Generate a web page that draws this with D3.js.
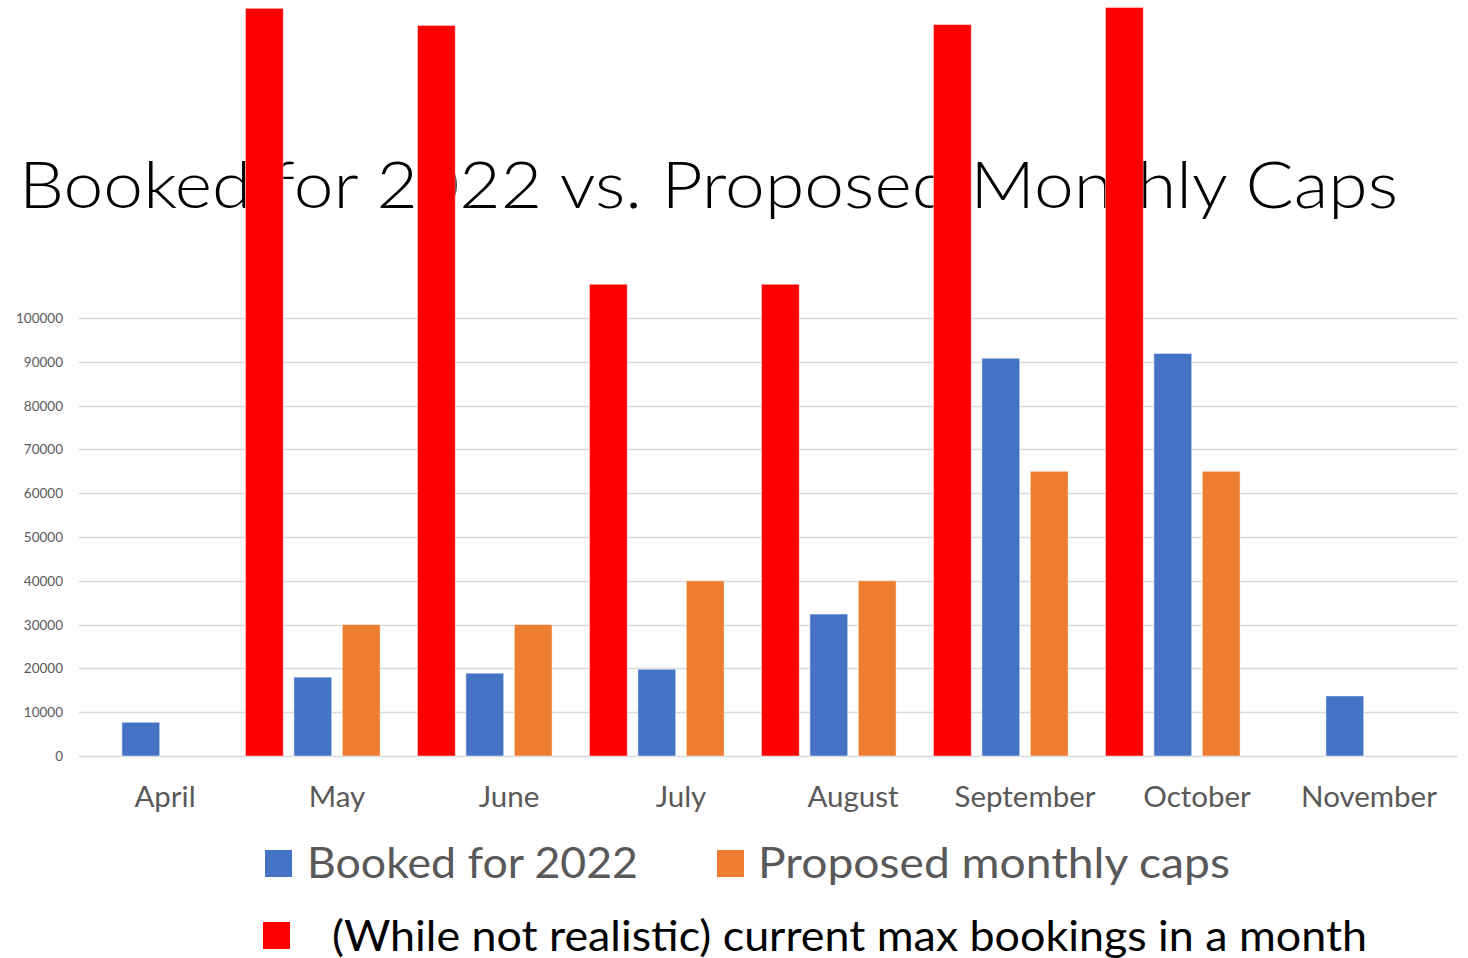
<!DOCTYPE html>
<html>
<head>
<meta charset="utf-8">
<script src="https://cdn.jsdelivr.net/npm/d3@7"></script>
<style>
  body { margin: 0; background: #fff; }
  svg { display: block; font-family: Lato, "Open Sans", sans-serif; }
</style>
</head>
<body>
<script>
var months = ["April", "May", "June", "July", "August", "September", "October", "November"];
var booked = [7700, 18000, 18900, 19800, 32400, 90800, 91900, 13700];
var caps = [null, 30000, 30000, 40000, 40000, 65000, 65000, null];
var maxBookings = [null, 170700, 166800, 107700, 107700, 167000, 170900, null];
var yTicks = [0, 10000, 20000, 30000, 40000, 50000, 60000, 70000, 80000, 90000, 100000];

// excel reserves a fourth (empty) slot in each group
var slots = ["max", "booked", "caps", "spare"];
var colors = { max: "#FF0000", booked: "#4472C4", caps: "#ED7D31" };
var seriesValues = { max: maxBookings, booked: booked, caps: caps };

var svg = d3.select("body").append("svg").attr("width", 1468).attr("height", 958);

var x0 = d3.scaleBand().domain(months).range([79, 1455]).padding(0);
var x1 = d3.scaleBand().domain(slots).range([-91.5, 91.5]).paddingInner(0.22).paddingOuter(0);
var y = d3.scaleLinear().domain([0, 100000]).range([756, 318]);

// gridlines
svg.append("g").selectAll("line").data(yTicks).join("line")
  .attr("x1", 79).attr("x2", 1458)
  .attr("y1", function(d) { return Math.round(y(d)) + 0.5; })
  .attr("y2", function(d) { return Math.round(y(d)) + 0.5; })
  .attr("stroke", "#d9d9d9").attr("stroke-width", 1.3);

// y tick labels
svg.append("g").selectAll("text").data(yTicks).join("text")
  .attr("x", 63).attr("y", function(d) { return y(d) + 5; })
  .attr("text-anchor", "end").attr("font-size", 13.5).attr("fill", "#595959")
  .text(function(d) { return d; });

// title (red bars are drawn over it)
svg.append("text")
  .attr("x", 19).attr("y", 208)
  .attr("font-size", 66).attr("font-weight", 300).attr("fill", "#000")
  .attr("textLength", 1379).attr("lengthAdjust", "spacingAndGlyphs")
  .text("Booked for 2022 vs. Proposed Monthly Caps");

// bars
["booked", "caps", "max"].forEach(function(key) {
  var vals = seriesValues[key];
  svg.append("g").selectAll("rect")
    .data(months.map(function(m, i) { return { m: m, v: vals[i] }; }).filter(function(d) { return d.v != null; }))
    .join("rect")
    .attr("x", function(d) { return x0(d.m) + x0.bandwidth() / 2 + x1(key); })
    .attr("width", x1.bandwidth())
    .attr("y", function(d) { return y(d.v); })
    .attr("height", function(d) { return y(0) - y(d.v); })
    .attr("fill", colors[key])
    .attr("stroke", "#fff").attr("stroke-opacity", 0.45).attr("stroke-width", 1);
});

// category labels
svg.append("g").selectAll("text").data(months).join("text")
  .attr("x", function(d) { return x0(d) + x0.bandwidth() / 2; })
  .attr("y", 807)
  .attr("text-anchor", "middle").attr("font-size", 29.5).attr("fill", "#595959")
  .text(function(d) { return d; });

// legend
var legend = [
  { key: "booked", label: "Booked for 2022", sx: 265, sy: 850, tx: 307, ty: 878, tw: 331, fill: "#595959" },
  { key: "caps", label: "Proposed monthly caps", sx: 717, sy: 850, tx: 758, ty: 878, tw: 472, fill: "#595959" },
  { key: "max", label: "(While not realistic) current max bookings in a month", sx: 263, sy: 922, tx: 332, ty: 951, tw: 1035, fill: "#000" }
];
var lg = svg.append("g");
legend.forEach(function(l) {
  lg.append("rect").attr("x", l.sx).attr("y", l.sy).attr("width", 27).attr("height", 27)
    .attr("fill", colors[l.key]);
  lg.append("text").attr("x", l.tx).attr("y", l.ty)
    .attr("font-size", 43).attr("fill", l.fill)
    .attr("textLength", l.tw).attr("lengthAdjust", "spacingAndGlyphs")
    .text(l.label);
});
</script>
</body>
</html>
